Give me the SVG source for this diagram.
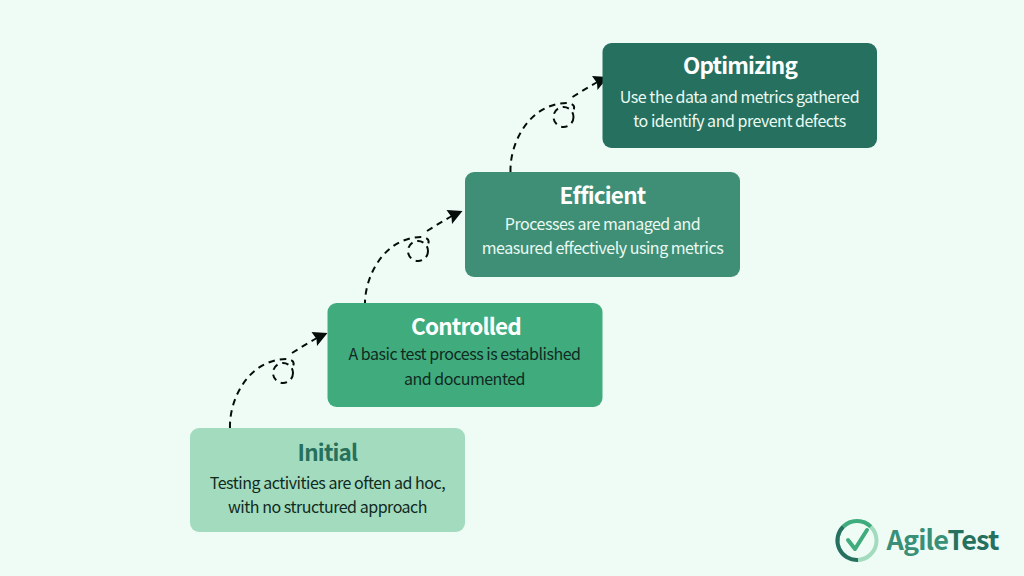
<svg xmlns="http://www.w3.org/2000/svg" width="1024" height="576" viewBox="0 0 1024 576">
<style>
text{font-family:"Noto Sans CJK SC","Noto Sans",sans-serif;text-anchor:middle}
.t{font-size:22.500px;font-weight:700;letter-spacing:-.8px}
.d{font-size:16px;font-weight:400;letter-spacing:-.48px}
.c{fill:none;stroke:#050d0a;stroke-width:2;stroke-dasharray:6.500 5}
.h{fill:#050d0a}
</style>
<defs>
<g id="conn">
<path class="c" d="M0 0C-1 -28 18 -68 56 -69C62 -69 65 -66 63 -62"/>
<path class="c" d="M62 -75C70 -80 78 -85 87 -90"/>
<circle class="c" cx="53" cy="-55" r="10" stroke-dasharray="5 3.500"/>
<path class="h" d="M97.500 -95L87 -82L86.500 -89L81.500 -96Z"/>
</g>
</defs>
<rect width="1024" height="576" fill="#effcf6"/>
<g id="connectors">
<use href="#conn" x="230" y="428"/>
<use href="#conn" x="365" y="306"/>
<use href="#conn" x="510.500" y="172"/>
</g>
<g id="initial">
<rect x="190" y="428" width="275" height="104" rx="9" fill="#a3dbbf"/>
<text class="t" x="327.500" y="461" fill="#26705c">Initial</text>
<text class="d" x="327.500" y="489" fill="#102a22">Testing activities are often ad hoc,</text>
<text class="d" x="327.500" y="513" fill="#102a22">with no structured approach</text>
</g>
<g id="controlled">
<rect x="327.500" y="303" width="275" height="104" rx="9" fill="#40ac7d"/>
<text class="t" x="466" y="335" fill="#fff">Controlled</text>
<text class="d" x="464.500" y="360" fill="#102a22">A basic test process is established</text>
<text class="d" x="464.500" y="385" fill="#102a22">and documented</text>
</g>
<g id="efficient">
<rect x="465" y="172" width="275" height="105" rx="9" fill="#3f8f76"/>
<text class="t" x="602.500" y="204" fill="#fff">Efficient</text>
<text class="d" x="602.500" y="230" fill="#eafaf3">Processes are managed and</text>
<text class="d" x="602.500" y="254" fill="#eafaf3">measured effectively using metrics</text>
</g>
<g id="optimizing">
<rect x="602.500" y="43" width="274.500" height="105" rx="9" fill="#26705f"/>
<text class="t" x="740" y="74" fill="#fff">Optimizing</text>
<text class="d" x="739.500" y="103" fill="#eafaf3">Use the data and metrics gathered</text>
<text class="d" x="739.500" y="127" fill="#eafaf3">to identify and prevent defects</text>
</g>
<g id="logo">
<circle cx="857" cy="540.500" r="19.500" fill="none" stroke="#a3dbbf" stroke-width="4"/>
<path d="M870.800 526.700A19.500 19.500 0 0 0 843.200 526.700" fill="none" stroke="#40ac7d" stroke-width="4"/>
<path d="M843.200 526.700A19.500 19.500 0 0 0 858 560" fill="none" stroke="#26705f" stroke-width="4"/>
<path d="M848 540L855 549L867 530" fill="none" stroke="#40ac7d" stroke-width="4" stroke-linecap="round" stroke-linejoin="round"/>
<text x="942.500" y="550" font-size="27" font-weight="700" letter-spacing="-.8" fill="#3a8f78">Agile<tspan fill="#26705f">Test</tspan></text>
</g>
</svg>
